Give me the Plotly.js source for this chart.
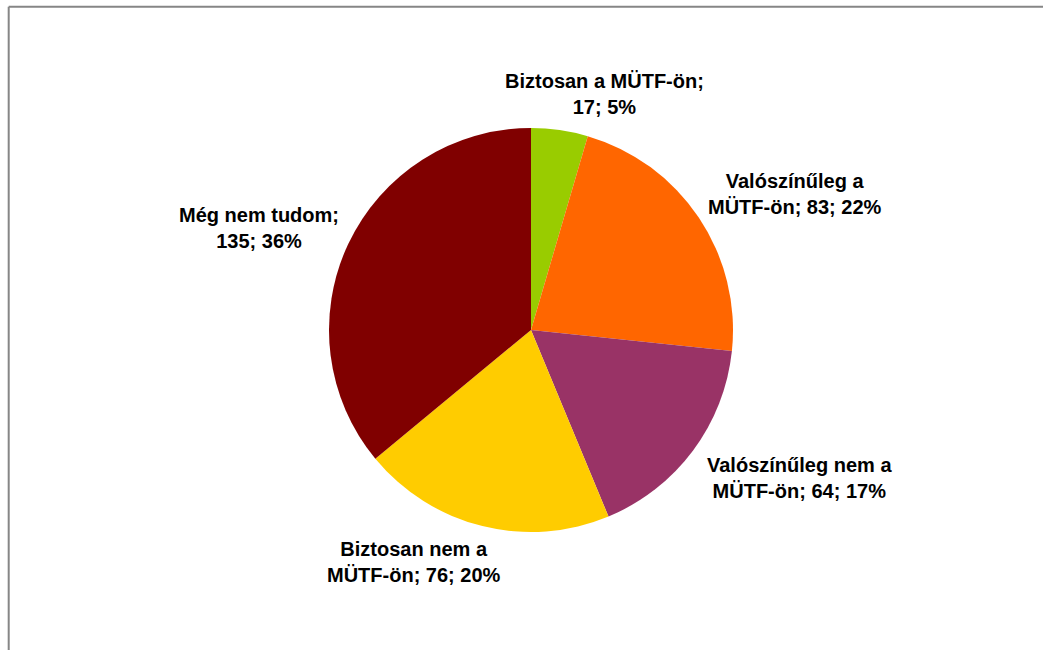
<!DOCTYPE html>
<html>
<head>
<meta charset="utf-8">
<script src="https://cdn.plot.ly/plotly-3.0.1.min.js"></script>
<style>
html,body{margin:0;padding:0;background:#fff;overflow:hidden;}
#chart{width:1043px;height:650px;}
</style>
</head>
<body>
<div id="chart"></div>
<script>
// Data
const categories = ["Biztosan a MÜTF-ön", "Valószínűleg a MÜTF-ön", "Valószínűleg nem a MÜTF-ön", "Biztosan nem a MÜTF-ön", "Még nem tudom"];
const values = [17, 83, 64, 76, 135];
const percents = ["5%", "22%", "17%", "20%", "36%"];
// label text as in the chart (line breaks)
const labelLines = [
  ["Biztosan a MÜTF-ön;", "17; 5%"],
  ["Valószínűleg a", "MÜTF-ön; 83; 22%"],
  ["Valószínűleg nem a", "MÜTF-ön; 64; 17%"],
  ["Biztosan nem a", "MÜTF-ön; 76; 20%"],
  ["Még nem tudom;", "135; 36%"]
];
const colors = ["#99CC00", "#FF6600", "#993366", "#FFCC00", "#800000"];

// Layout (pixel positions of label centres)
const W = 1043, H = 650;
const labelPos = [[604, 94], [795, 194], [799, 478], [414, 562], [259, 228]];
const cx = 531, cy = 330, R = 202;

const trace = {
  type: "pie",
  labels: categories,
  values: values,
  sort: false,
  direction: "clockwise",
  rotation: 0,
  textinfo: "none",
  hoverinfo: "label+value+percent",
  marker: {colors: colors, line: {width: 0}},
  showlegend: false,
  domain: {x: [(cx - R) / W, (cx + R) / W], y: [(H - cy - R) / H, (H - cy + R) / H]}
};

const annotations = labelLines.map((lines, i) => ({
  xref: "paper", yref: "paper",
  x: labelPos[i][0] / W, y: 1 - labelPos[i][1] / H,
  xanchor: "center", yanchor: "middle",
  text: lines.join("<br>"),
  showarrow: false,
  align: "center",
  font: {family: "Liberation Sans, Arial, sans-serif", size: 20, color: "#000", weight: "bold"}
}));

const shapes = [
  {type: "line", xref: "paper", yref: "paper", x0: 8.7 / W, x1: 1.01, y0: 1 - 6.7 / H, y1: 1 - 6.7 / H, line: {color: "#868686", width: 2}},
  {type: "line", xref: "paper", yref: "paper", x0: 8.7 / W, x1: 8.7 / W, y0: 1 - 6.7 / H, y1: -0.01, line: {color: "#868686", width: 2}}
];

const layout = {
  width: W, height: H,
  margin: {l: 0, r: 0, t: 0, b: 0},
  paper_bgcolor: "#fff",
  plot_bgcolor: "#fff",
  annotations: annotations,
  shapes: shapes,
  showlegend: false
};

Plotly.newPlot("chart", [trace], layout, {displayModeBar: false, staticPlot: true});
</script>
</body>
</html>
